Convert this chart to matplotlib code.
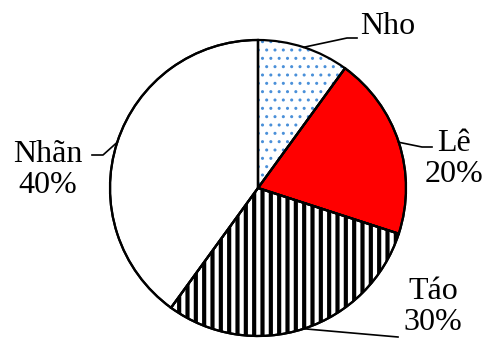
import numpy as np
import matplotlib.pyplot as plt

plt.rcParams['font.family'] = ['Liberation Serif', 'DejaVu Serif']

labels = ['Nho', 'Lê', 'Táo', 'Nhãn']
values = [10, 20, 30, 40]
shown = ['Nho', 'Lê\n20%', 'Táo\n30%', 'Nhãn\n40%']

W, H = 487, 338
fig = plt.figure(figsize=(W / 100, H / 100), dpi=100)
ax = fig.add_axes([0, 0, 1, 1])

cx, cy, r = 258, H - 188, 148
wedges, _ = ax.pie(values, startangle=90, counterclock=False, center=(cx, cy),
                   radius=r, colors=['white', '#ff0000', 'white', 'white'],
                   wedgeprops=dict(edgecolor='black', linewidth=1.6), frame=True)

# dotted fill for Nho (blue dots), stripes for Táo
wedges[0].set_hatch('..')
wedges[0].set_edgecolor('#4a90d9')
wedges[0].set_linewidth(0)
wedges[2].set_hatch('||')
if hasattr(wedges[2], 'set_hatch_linewidth'):
    wedges[2].set_hatch_linewidth(3)
# redraw outlines in black on top
for w in wedges:
    o = plt.matplotlib.patches.Wedge(w.center, w.r, w.theta1, w.theta2,
                                     facecolor='none', edgecolor='black', linewidth=1.6)
    ax.add_patch(o)

# leader lines (elbow offsets in pixels) and label positions
elbows = [[(347, 38), (357, 38)],
          [(422, 147), (432, 147)],
          [(398, 337)],
          [(103, 155), (92, 155)]]
text_pos = [(388, 27), (454, 159), (433, 307), (48, 170)]
for i, w in enumerate(wedges):
    ang = np.deg2rad((w.theta1 + w.theta2) / 2)
    pts = [(cx + r * np.cos(ang), cy + r * np.sin(ang))]
    pts += [(x, H - y) for x, y in elbows[i]]
    xs, ys = zip(*pts)
    ax.plot(xs, ys, color='black', lw=1.2)
    tx, ty = text_pos[i]
    ax.text(tx, H - ty, shown[i], ha='center', va='center', fontsize=23,
            linespacing=1.1)

ax.set_xlim(0, W)
ax.set_ylim(0, H)
ax.set_aspect('equal')
ax.axis('off')
fig.savefig('out.png', dpi=100)
